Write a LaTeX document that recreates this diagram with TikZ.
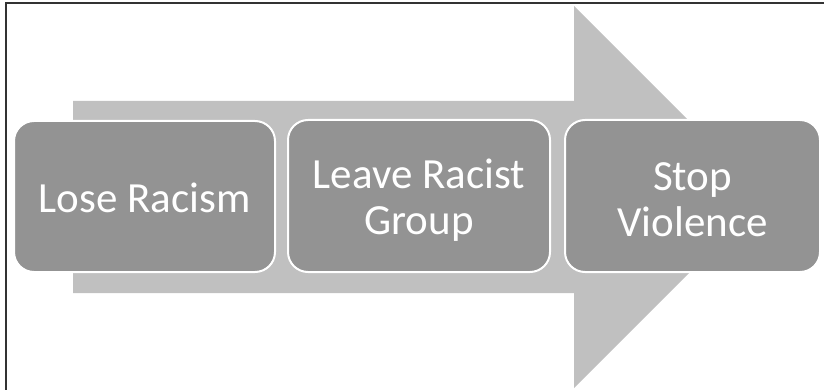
\documentclass[tikz,border=0pt]{standalone}
\usepackage{fontspec}
\setmainfont{Carlito}
\definecolor{arrowgray}{HTML}{C0C0C0}
\definecolor{boxgray}{HTML}{939393}
\tikzset{
  stepbox/.style={draw=white, line width=2pt, fill=boxgray, rounded corners=20pt},
  steptext/.style={text=white, align=center, font=\fontsize{43pt}{46pt}\selectfont, inner sep=0pt},
  frameline/.style={draw=black!80, line width=1.2pt}
}
\begin{document}
\begin{tikzpicture}[x=1pt,y=-1pt]
\useasboundingbox (0,0) rectangle (824,390);
\fill[white] (0,0) rectangle (824,390);
% frame
\draw[frameline] (6,390) -- (6,3) -- (824,3);
% big arrow
\fill[arrowgray] (73,101) -- (574,101) -- (574,6) -- (765,197) -- (574,388) -- (574,293) -- (73,293) -- cycle;
% boxes
\draw[stepbox] (14,121) rectangle (275,272);
\draw[stepbox] (288,120) rectangle (550,272);
\draw[stepbox] (565,120) rectangle (820,272);
\coordinate (c1) at (144.5,198);
\coordinate (c2) at (419,200);
\coordinate (c3) at (692.5,200);
\node[steptext] (t1) at (c1) {Lose Racism};
\node[steptext] (t2) at (c2) {Leave Racist\\Group};
\node[steptext] (t3) at (c3) {Stop\\Violence};
\end{tikzpicture}
\end{document}
